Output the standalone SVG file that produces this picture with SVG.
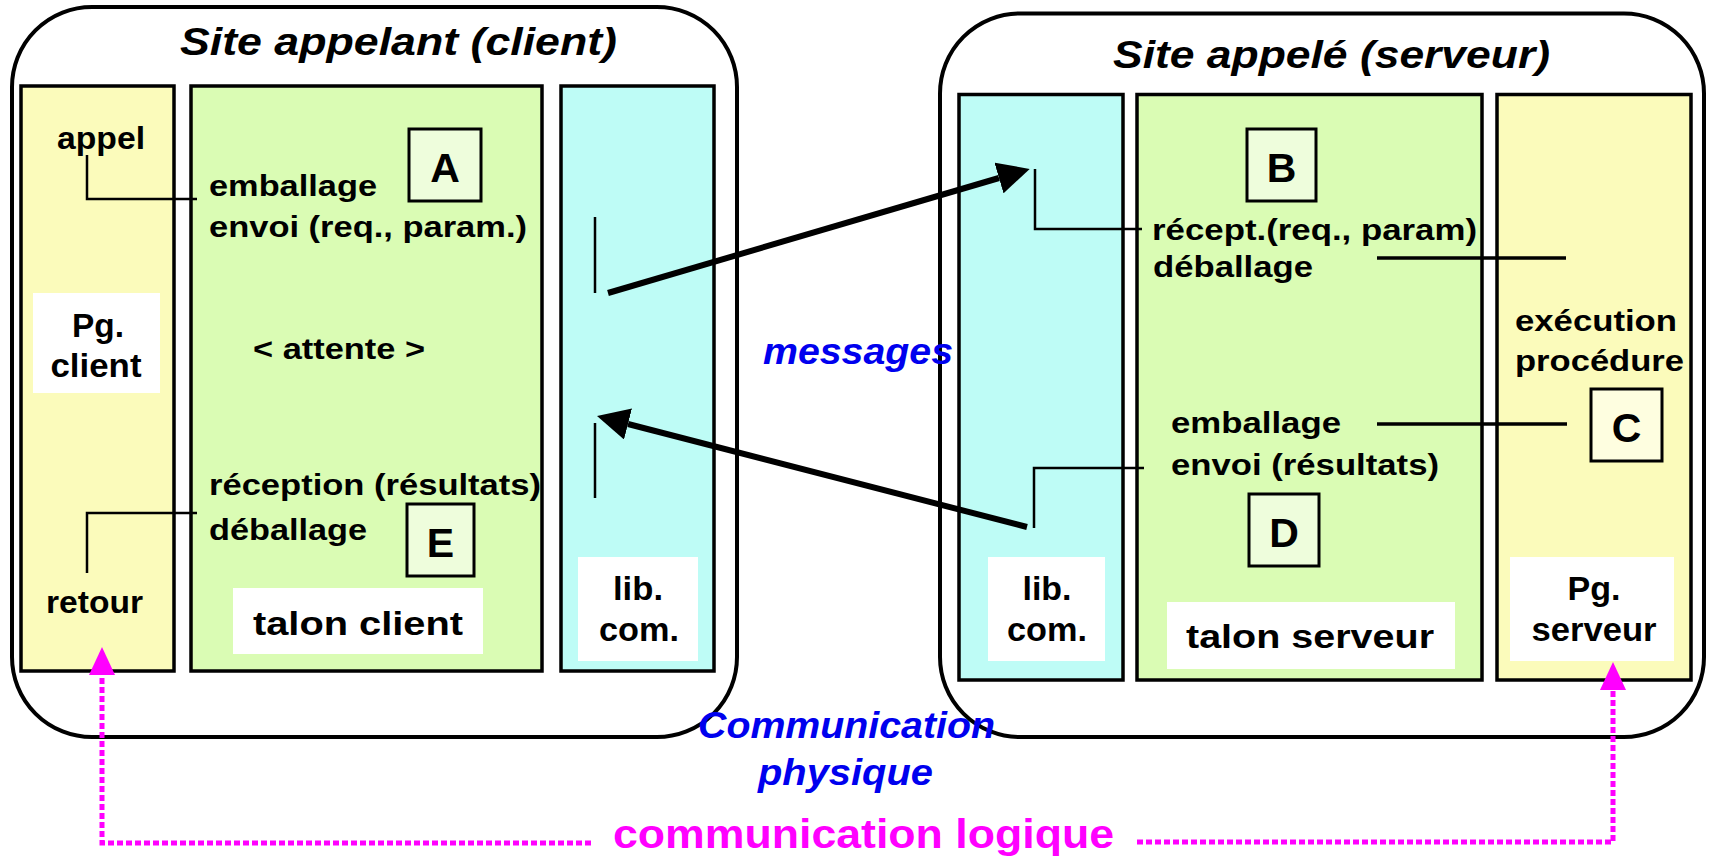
<svg xmlns="http://www.w3.org/2000/svg" width="1709" height="859" viewBox="0 0 1709 859">
  <style>
    .site { fill: #ffffff; stroke: #000000; stroke-width: 4; }
    .col { stroke: #000000; stroke-width: 3.5; }
    .yel { fill: #FBFBBB; }
    .grn { fill: #DAFCB4; }
    .cyn { fill: #BEFCF6; }
    .white { fill: #ffffff; }
    .box { stroke: #000000; stroke-width: 3; }
    .boxg { fill: #EEFDDC; }
    .boxy { fill: #FEFEE0; }
    text { font-family: "Liberation Sans", Arial, Helvetica, sans-serif; font-weight: bold; fill: #000000; }
    .t { font-size: 30px; }
    .lbl { font-size: 34px; }
    .mid { text-anchor: middle; }
    .title { font-size: 38px; font-style: italic; }
    .letter { font-size: 41px; text-anchor: middle; }
    .blue { font-size: 37px; font-style: italic; fill: #0000EE; }
    .mag { font-size: 40px; fill: #FF00FF; }
    .wire { fill: none; stroke: #000000; stroke-width: 2.5; }
    .wire2 { fill: none; stroke: #000000; stroke-width: 3.5; }
    .msg { fill: none; stroke: #000000; stroke-width: 6; marker-end: url(#head); }
    .logic { fill: none; stroke: #FF00FF; stroke-width: 5; stroke-dasharray: 6 3; marker-end: url(#headm); }
  </style>
  <defs>
    <marker id="head" viewBox="0 -16 32 32" markerWidth="32" markerHeight="32" refX="0" refY="0" orient="auto" markerUnits="userSpaceOnUse">
      <path d="M0,-16 L32,0 L0,16 Z" fill="#000000"/>
    </marker>
    <marker id="headm" viewBox="0 -13 28 26" markerWidth="28" markerHeight="26" refX="0" refY="0" orient="auto" markerUnits="userSpaceOnUse">
      <path d="M0,-13 L28,0 L0,13 Z" fill="#FF00FF"/>
    </marker>
  </defs>

  <!-- calling site (client) -->
  <g id="site-client">
    <rect class="site" x="12" y="7" width="725" height="730" rx="80" ry="80"/>
    <text class="title" x="180" y="55" textLength="437" lengthAdjust="spacingAndGlyphs">Site appelant (client)</text>
  </g>

  <g id="pg-client">
    <rect class="col yel" x="21" y="86" width="153" height="585"/>
    <rect class="white" x="33" y="293" width="127" height="100"/>
    <text class="lbl mid" x="98" y="337" textLength="52" lengthAdjust="spacingAndGlyphs">Pg.</text>
    <text class="lbl mid" x="96" y="377" textLength="91" lengthAdjust="spacingAndGlyphs">client</text>
    <text class="t" x="57" y="149" style="font-size:31px" textLength="88" lengthAdjust="spacingAndGlyphs">appel</text>
    <text class="t" x="46" y="613" style="font-size:31px" textLength="97" lengthAdjust="spacingAndGlyphs">retour</text>
  </g>

  <g id="talon-client">
    <rect class="col grn" x="191" y="86" width="351" height="585"/>
    <text class="t" x="209" y="196" textLength="168" lengthAdjust="spacingAndGlyphs">emballage</text>
    <text class="t" x="209" y="237" textLength="318" lengthAdjust="spacingAndGlyphs">envoi (req., param.)</text>
    <text class="t" x="253" y="359" textLength="172" lengthAdjust="spacingAndGlyphs">&lt; attente &gt;</text>
    <text class="t" x="209" y="495" textLength="332" lengthAdjust="spacingAndGlyphs">réception (résultats)</text>
    <text class="t" x="209" y="540" textLength="158" lengthAdjust="spacingAndGlyphs">déballage</text>
    <rect class="white" x="233" y="588" width="250" height="66"/>
    <text class="lbl" x="253" y="635" textLength="210" lengthAdjust="spacingAndGlyphs">talon client</text>
  </g>

  <g id="box-a">
    <rect class="box boxg" x="409" y="129" width="72" height="72"/>
    <text class="letter" x="445" y="182">A</text>
  </g>
  <g id="box-e">
    <rect class="box boxg" x="407" y="504" width="67" height="72"/>
    <text class="letter" x="440.5" y="557">E</text>
  </g>

  <g id="lib-client">
    <rect class="col cyn" x="561" y="86" width="153" height="585"/>
    <rect class="white" x="578" y="557" width="120" height="104"/>
    <text class="lbl mid" x="638" y="600" textLength="50" lengthAdjust="spacingAndGlyphs">lib.</text>
    <text class="lbl mid" x="639" y="641" textLength="80" lengthAdjust="spacingAndGlyphs">com.</text>
  </g>

  <!-- called site (server) -->
  <g id="site-serveur">
    <rect class="site" x="940" y="13.5" width="764" height="723.5" rx="80" ry="80"/>
    <text class="title" x="1113" y="68" textLength="437" lengthAdjust="spacingAndGlyphs">Site appelé (serveur)</text>
  </g>

  <g id="lib-serveur">
    <rect class="col cyn" x="959" y="94.5" width="164" height="585.5"/>
    <rect class="white" x="988" y="557" width="117" height="104"/>
    <text class="lbl mid" x="1047" y="600" textLength="49" lengthAdjust="spacingAndGlyphs">lib.</text>
    <text class="lbl mid" x="1047" y="641" textLength="80" lengthAdjust="spacingAndGlyphs">com.</text>
  </g>

  <g id="talon-serveur">
    <rect class="col grn" x="1137" y="94.5" width="345" height="585.5"/>
    <text class="t" x="1152" y="240" textLength="325" lengthAdjust="spacingAndGlyphs">récept.(req., param)</text>
    <text class="t" x="1153" y="277" textLength="160" lengthAdjust="spacingAndGlyphs">déballage</text>
    <text class="t" x="1171" y="433" textLength="170" lengthAdjust="spacingAndGlyphs">emballage</text>
    <text class="t" x="1171" y="475" textLength="268" lengthAdjust="spacingAndGlyphs">envoi (résultats)</text>
    <rect class="white" x="1167" y="602" width="288" height="67"/>
    <text class="lbl" x="1186" y="648" textLength="248" lengthAdjust="spacingAndGlyphs">talon serveur</text>
  </g>

  <g id="box-b">
    <rect class="box boxg" x="1247" y="129" width="69" height="72"/>
    <text class="letter" x="1281.5" y="182">B</text>
  </g>
  <g id="box-d">
    <rect class="box boxg" x="1249" y="494" width="70" height="72"/>
    <text class="letter" x="1284" y="547">D</text>
  </g>

  <g id="pg-serveur">
    <rect class="col yel" x="1497" y="94.5" width="194" height="585.5"/>
    <text class="t" x="1515" y="331" textLength="162" lengthAdjust="spacingAndGlyphs">exécution</text>
    <text class="t" x="1515" y="371" textLength="169" lengthAdjust="spacingAndGlyphs">procédure</text>
    <rect class="white" x="1510" y="557" width="164" height="104"/>
    <text class="lbl mid" x="1594" y="600" textLength="53" lengthAdjust="spacingAndGlyphs">Pg.</text>
    <text class="lbl mid" x="1594" y="641" textLength="125" lengthAdjust="spacingAndGlyphs">serveur</text>
  </g>

  <g id="box-c">
    <rect class="box boxy" x="1591" y="389" width="71" height="72"/>
    <text class="letter" x="1626.5" y="442">C</text>
  </g>

  <!-- connectors -->
  <g id="connectors">
    <path class="wire" d="M87,155 V199 H197"/>
    <path class="wire" d="M87,573 V513 H197"/>
    <path class="wire" d="M595,217 V293"/>
    <path class="wire" d="M595,423 V498"/>
    <path class="wire" d="M1035,169 V229 H1142"/>
    <path class="wire2" d="M1377,258 H1566"/>
    <path class="wire2" d="M1377,424 H1567"/>
    <path class="wire" d="M1144,468 H1034 V528"/>
    <path class="msg" d="M608,293 L999,178"/>
    <path class="msg" d="M1027,527 L628,424"/>
    <path class="logic" d="M591,843 H102 V675"/>
    <path class="logic" d="M1137,842 H1613 V690"/>
  </g>

  <!-- channel labels -->
  <g id="labels">
    <text class="blue" x="763" y="364" textLength="190" lengthAdjust="spacingAndGlyphs">messages</text>
    <text class="blue" x="698" y="738" textLength="297" lengthAdjust="spacingAndGlyphs">Communication</text>
    <text class="blue" x="758" y="785" textLength="175" lengthAdjust="spacingAndGlyphs">physique</text>
    <text class="mag" x="613" y="848" textLength="501" lengthAdjust="spacingAndGlyphs">communication logique</text>
  </g>
</svg>
